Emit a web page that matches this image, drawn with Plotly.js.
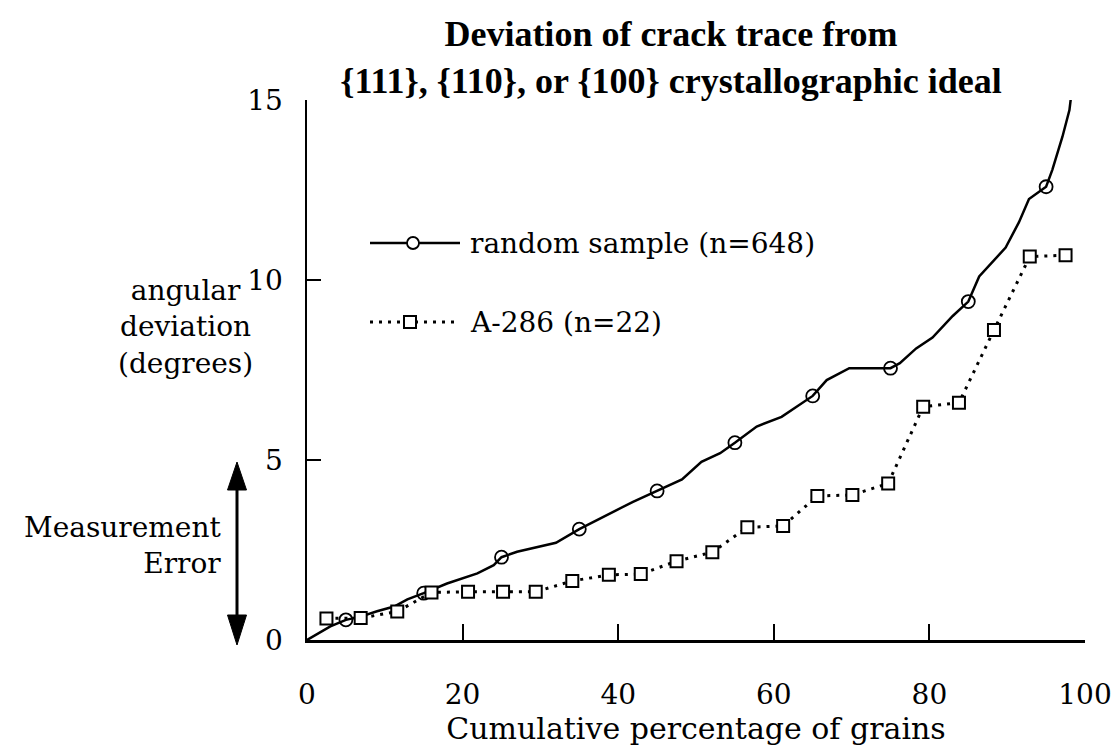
<!DOCTYPE html>
<html>
<head>
<meta charset="utf-8">
<script src="https://cdn.plot.ly/plotly-3.0.1.min.js"></script>
<style>html,body{margin:0;padding:0;background:#fff;}#chart{width:1116px;height:746px;}</style>
</head>
<body>
<div id="chart"></div>
<script>
// Random sample (n=648): cumulative curve
const randomX = [0, 1.4, 3, 5, 6.9, 9, 11.2, 12.9, 15, 18, 21.9, 24, 25, 27, 30, 32, 35, 37.7, 39.8, 41.9, 45, 48.2, 50.7, 53.1, 55, 57.8, 61, 62.9, 65, 66.8, 68.5, 69.7, 75, 76.2, 78.3, 80.4, 83, 85, 86.4, 89.8, 91.5, 92.8, 95, 95.8, 97.1, 98, 98.2];
const randomY = [0, 0.17, 0.38, 0.56, 0.65, 0.8, 0.93, 1.13, 1.3, 1.57, 1.85, 2.08, 2.3, 2.45, 2.6, 2.7, 3.08, 3.39, 3.61, 3.84, 4.14, 4.46, 4.95, 5.19, 5.48, 5.93, 6.2, 6.48, 6.78, 7.22, 7.41, 7.55, 7.55, 7.69, 8.1, 8.4, 9.0, 9.4, 10.1, 10.9, 11.6, 12.25, 12.59, 13.06, 13.98, 14.72, 15.08];
// circle markers on the random sample curve
const circleX = [5, 15, 25, 35, 45, 55, 65, 75, 85, 95];
const circleY = [0.56, 1.3, 2.3, 3.08, 4.14, 5.48, 6.78, 7.55, 9.4, 12.59];
// A-286 (n=22)
const a286X = [2.5, 6.9, 11.6, 16.0, 20.7, 25.2, 29.4, 34.1, 38.8, 42.9, 47.5, 52.1, 56.6, 61.2, 65.6, 70.1, 74.7, 79.2, 83.8, 88.3, 92.9, 97.5];
const a286Y = [0.60, 0.61, 0.79, 1.32, 1.34, 1.34, 1.34, 1.64, 1.81, 1.83, 2.19, 2.44, 3.13, 3.17, 4.0, 4.03, 4.35, 6.48, 6.59, 8.61, 10.65, 10.69];
// tick labels
const xTicks = [0, 20, 40, 60, 80, 100];
const yTicks = [0, 5, 10, 15];
const seriesNames = ['random sample (n=648)', 'A-286 (n=22)'];

const SERIF = 'DejaVu Serif, serif';
const traces = [
  {x: randomX, y: randomY, mode: 'lines', line: {color: '#000', width: 2.5}, showlegend: false, hoverinfo: 'skip', name: seriesNames[0]},
  {x: circleX, y: circleY, mode: 'markers', marker: {symbol: 'circle-open', size: 13, color: '#000', line: {width: 1.8}}, showlegend: false, name: seriesNames[0]},
  {x: a286X, y: a286Y, mode: 'lines+markers', line: {color: '#000', width: 3, dash: '3px,6px'},
   marker: {symbol: 'square', size: 12, color: '#fff', line: {color: '#000', width: 2}}, showlegend: false, name: seriesNames[1]}
];

// paper helpers for decoration
const L = 307, W = 778, T = 100, H = 540;
const px = v => (v - L) / W;
const py = v => (T + H - v) / H;

const shapes = [
  // legend samples
  {type: 'line', xref: 'paper', yref: 'paper', x0: px(370), x1: px(460), y0: py(243), y1: py(243), line: {color: '#000', width: 2.5}},
  {type: 'circle', xref: 'paper', yref: 'paper', xsizemode: 'pixel', ysizemode: 'pixel', xanchor: px(413), yanchor: py(243), x0: -6, x1: 6, y0: -6, y1: 6, fillcolor: '#fff', line: {color: '#000', width: 1.8}},
  {type: 'line', xref: 'paper', yref: 'paper', x0: px(370), x1: px(460), y0: py(322), y1: py(322), line: {color: '#000', width: 3, dash: '3px,6px'}},
  {type: 'rect', xref: 'paper', yref: 'paper', xsizemode: 'pixel', ysizemode: 'pixel', xanchor: px(410), yanchor: py(322), x0: -6, x1: 6, y0: -6, y1: 6, fillcolor: '#fff', line: {color: '#000', width: 2}},
  // measurement error double arrow
  {type: 'line', xref: 'paper', yref: 'paper', x0: px(237), x1: px(237), y0: py(488), y1: py(617), line: {color: '#000', width: 3}},
  {type: 'path', xref: 'paper', yref: 'paper', path: `M ${px(237)} ${py(462)} L ${px(246.5)} ${py(490)} L ${px(227.5)} ${py(490)} Z`, fillcolor: '#000', line: {color: '#000', width: 1}},
  {type: 'path', xref: 'paper', yref: 'paper', path: `M ${px(237)} ${py(645)} L ${px(246.5)} ${py(615)} L ${px(227.5)} ${py(615)} Z`, fillcolor: '#000', line: {color: '#000', width: 1}}
];

const annotations = [
  {xref: 'paper', yref: 'paper', x: px(468), y: py(243), xanchor: 'left', yanchor: 'middle', text: seriesNames[0], showarrow: false, font: {family: SERIF, size: 28, color: '#000'}},
  {xref: 'paper', yref: 'paper', x: px(468), y: py(322), xanchor: 'left', yanchor: 'middle', text: seriesNames[1], showarrow: false, font: {family: SERIF, size: 28, color: '#000'}},
  {xref: 'paper', yref: 'paper', x: px(185), y: py(327), xanchor: 'center', yanchor: 'middle', text: 'angular<br>deviation<br>(degrees)', align: 'center', showarrow: false, font: {family: SERIF, size: 28, color: '#000'}},
  {xref: 'paper', yref: 'paper', x: px(223), y: py(545), xanchor: 'right', yanchor: 'middle', text: 'Measurement<br>Error', align: 'right', showarrow: false, font: {family: SERIF, size: 28, color: '#000'}}
];

const layout = {
  width: 1116, height: 746,
  paper_bgcolor: '#fff', plot_bgcolor: '#fff',
  margin: {l: L, r: 1116 - L - W, t: T, b: 746 - T - H},
  showlegend: false,
  title: {text: '<b>Deviation of crack trace from<br>{111}, {110}, or {100} crystallographic ideal</b>',
          xref: 'paper', x: px(671), xanchor: 'center', yref: 'container', y: 1 - 46 / 746, yanchor: 'middle',
          font: {family: 'Liberation Serif, serif', size: 36, color: '#000'}},
  xaxis: {range: [0, 100], tickvals: xTicks, ticktext: xTicks.map(String), ticks: 'inside', ticklen: 16, tickwidth: 2, tickcolor: '#000',
          showline: true, linewidth: 2.5, linecolor: '#000', showgrid: false, zeroline: false, fixedrange: true,
          ticklabelstandoff: 28, tickfont: {family: SERIF, size: 28, color: '#000'},
          title: {text: 'Cumulative percentage of grains', standoff: 2, font: {family: SERIF, size: 30, color: '#000'}}},
  yaxis: {range: [0, 15], tickvals: yTicks, ticktext: yTicks.map(String), ticks: 'inside', ticklen: 14, tickwidth: 2, tickcolor: '#000',
          showline: true, linewidth: 2.5, linecolor: '#000', showgrid: false, zeroline: false, fixedrange: true,
          ticklabelstandoff: 16, tickfont: {family: SERIF, size: 28, color: '#000'}},
  shapes: shapes,
  annotations: annotations
};

Plotly.newPlot('chart', traces, layout, {displayModeBar: false, staticPlot: true});
</script>
</body>
</html>
